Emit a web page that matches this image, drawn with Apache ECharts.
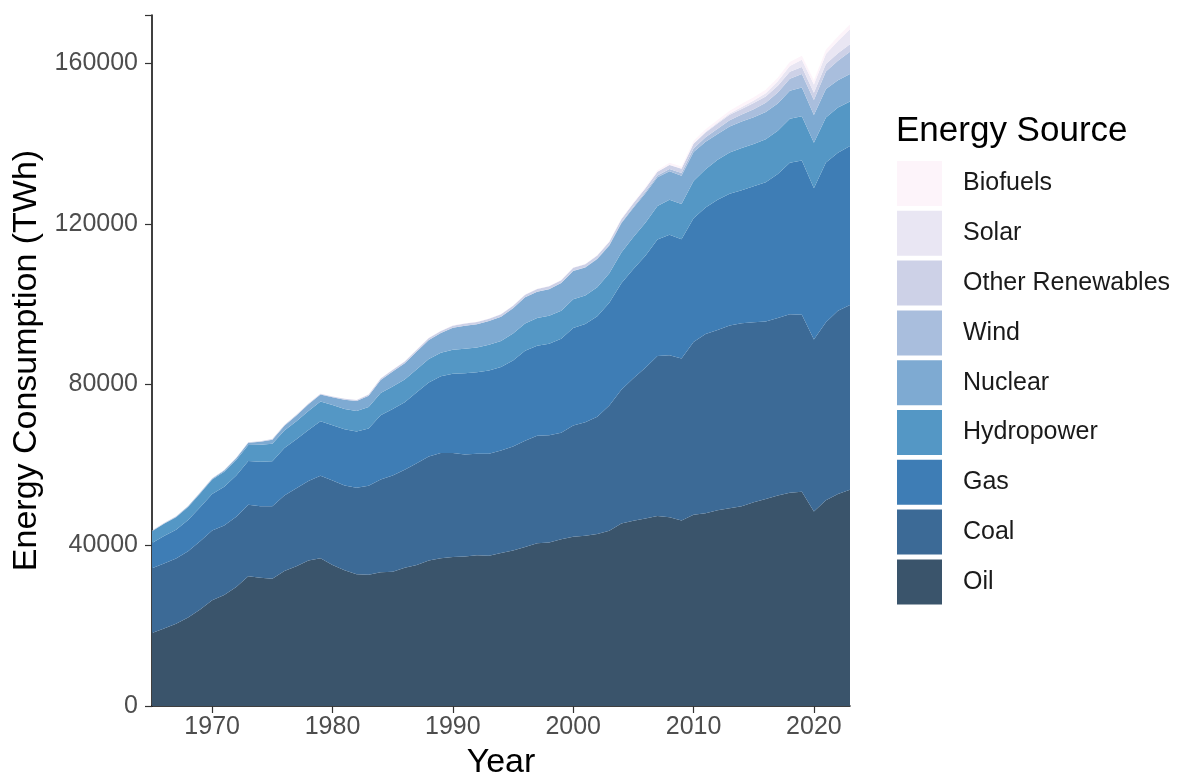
<!DOCTYPE html>
<html>
<head>
<meta charset="utf-8">
<script src="https://cdn.jsdelivr.net/npm/echarts@6/dist/echarts.min.js"></script>
<style>
html,body{margin:0;padding:0;background:#fff;overflow:hidden;}
#chart{width:1177px;height:778px;}
</style>
</head>
<body>
<div id="chart"></div>
<script>
var years = ['1965','1966','1967','1968','1969','1970','1971','1972','1973','1974',
'1975','1976','1977','1978','1979','1980','1981','1982','1983','1984',
'1985','1986','1987','1988','1989','1990','1991','1992','1993','1994',
'1995','1996','1997','1998','1999','2000','2001','2002','2003','2004',
'2005','2006','2007','2008','2009','2010','2011','2012','2013','2014',
'2015','2016','2017','2018','2019','2020','2021','2022','2023'];

var oil = [18200,19300,20500,22000,24000,26300,27600,29600,32300,31900,
31700,33600,34800,36200,36800,35100,33800,32800,32700,33300,
33400,34400,35100,36200,36800,37100,37200,37500,37400,38100,
38700,39600,40500,40700,41500,42100,42400,42800,43600,45400,
46100,46700,47300,47000,46200,47600,48000,48700,49200,49700,
50700,51500,52400,53100,53300,48400,51200,52800,53800];

var coal = [16100,16200,16200,16500,17000,17400,17300,17500,17800,17800,
18000,18800,19400,19800,20500,21000,21100,21500,22100,23100,
24000,24400,25300,25900,26200,25900,25400,25300,25400,25500,
25900,26400,26800,26700,26500,27700,28200,29200,31200,33300,
35500,37500,39800,40300,40300,43000,44600,44900,45500,45600,
44800,44200,44200,44400,44100,42800,44300,45600,46000];

var gas = [6300,6800,7200,7800,8500,9100,9700,10300,10900,11100,
11200,11800,12200,12700,13600,13800,14000,14000,14300,16000,
16500,16800,17700,18400,19100,19700,20200,20300,20700,20800,
21400,22400,22400,22800,23400,24300,24500,25000,25600,26500,
27200,27900,29000,30000,29700,30800,31500,32400,32800,33100,
33900,34700,35800,37700,38400,37700,39800,39300,39600];

var hydropower = [2900,3050,3100,3250,3400,3550,3700,3850,3950,4250,
4350,4400,4500,4750,4900,5000,5050,5150,5350,5500,
5600,5650,5700,5850,5850,6000,6150,6150,6400,6450,
6700,6800,6900,6950,7000,7150,7100,7250,7300,7700,
7950,8200,8350,8700,8750,9300,9500,10000,10300,10500,
10500,10700,10800,11000,11000,11300,11200,11300,11100];

var nuclear = [70,90,110,140,180,230,310,420,570,720,
1020,1170,1420,1660,1720,1930,2260,2440,2760,3260,
3790,4070,4440,4770,4900,5450,5700,5750,5930,6050,
6310,6540,6500,6610,6860,7030,6920,7020,6920,7250,
7270,7360,7170,7120,7020,7200,6870,6400,6460,6600,
6670,6730,6800,6950,7170,6920,7110,6770,6840];

var wind = [0,0,0,0,0,0,0,0,0,0,
0,0,0,0,0,0,0,0,1,1,
2,3,4,6,8,10,11,13,15,20,
22,30,35,45,60,85,105,140,170,220,
270,340,440,570,710,890,1090,1290,1530,1710,
2000,2320,2720,3010,3350,3720,4350,4860,5490];

var otherRenewables = [100,105,110,115,120,130,135,145,150,160,
170,180,190,205,220,240,260,290,320,360,
390,410,430,460,500,520,530,550,560,580,
600,620,640,660,680,700,710,740,770,810,
850,880,930,990,1050,1150,1200,1280,1350,1420,
1500,1560,1640,1700,1750,1800,1850,1870,1900];

var solar = [0,0,0,0,0,0,0,0,0,0,
0,0,0,0,0,0,0,0,0,0,
0,0,0,0,0,1,1,1,1,1,
1,1,2,2,3,3,4,5,6,8,
10,14,20,32,50,84,160,250,350,480,
640,840,1150,1460,1770,2090,2480,3040,3700];

var biofuels = [0,0,0,0,0,0,0,0,0,0,
5,8,12,15,20,30,40,50,60,70,
70,75,75,70,70,70,70,75,75,80,
85,90,95,95,95,100,110,130,160,180,
210,270,360,480,530,620,630,640,700,770,
790,820,870,960,1040,970,1040,1100,1210];

var yTicks = [0, 40000, 80000, 120000, 160000];
var xTickLabels = ['1970','1980','1990','2000','2010','2020'];

var seriesNames = ['Oil','Coal','Gas','Hydropower','Nuclear','Wind','Other Renewables','Solar','Biofuels'];
var seriesData = [oil, coal, gas, hydropower, nuclear, wind, otherRenewables, solar, biofuels];
var seriesColors = ['#3a546b','#3c6a96','#3e7db5','#5497c5','#7eaad2','#a9bedd','#cdd1e7','#e9e6f3','#fdf4fa'];

var FONT = 'Liberation Sans, Arial, sans-serif';

var series = seriesNames.map(function(name, i){
  return {
    name: name,
    type: 'line',
    stack: 'total',
    data: seriesData[i],
    symbol: 'none',
    showSymbol: false,
    lineStyle: {width: 0},
    itemStyle: {color: seriesColors[i]},
    areaStyle: {color: seriesColors[i], opacity: 1},
    emphasis: {disabled: true}
  };
});

var chart = echarts.init(document.getElementById('chart'), null, {renderer: 'canvas', width: 1177, height: 778});
chart.setOption({
  animation: false,
  backgroundColor: '#ffffff',
  title: {
    text: 'Energy Source',
    left: 896,
    top: 114,
    padding: 0,
    textStyle: {fontFamily: FONT, fontSize: 35, fontWeight: 'normal', color: '#000000'}
  },
  legend: {
    orient: 'vertical',
    left: 897,
    top: 161,
    padding: 0,
    itemWidth: 45,
    itemHeight: 45,
    itemGap: 4.8,
    icon: 'rect',
    data: seriesNames.slice().reverse(),
    textStyle: {fontFamily: FONT, fontSize: 25, color: '#1a1a1a', padding: [0,0,0,16]},
    selectedMode: false
  },
  grid: {left: 152, top: 15, width: 698, height: 691, containLabel: false, outerBoundsMode: 'none'},
  xAxis: {
    type: 'category',
    data: years,
    boundaryGap: false,
    name: 'Year',
    nameLocation: 'middle',
    nameGap: 40,
    nameTextStyle: {fontFamily: FONT, fontSize: 34, color: '#000000'},
    axisLine: {show: true, lineStyle: {color: '#000000', width: 1.5}},
    axisTick: {show: true, length: 7, lineStyle: {color: '#333333', width: 1.2},
      interval: function(i, v){ return xTickLabels.indexOf(String(v)) >= 0; }},
    axisLabel: {fontFamily: FONT, fontSize: 25, color: '#4d4d4d', margin: 9,
      interval: function(i, v){ return xTickLabels.indexOf(String(v)) >= 0; }},
    splitLine: {show: false}
  },
  yAxis: {
    type: 'value',
    min: 0,
    max: 172000,
    interval: 40000,
    name: 'Energy Consumption (TWh)',
    nameLocation: 'middle',
    nameGap: 105,
    nameTextStyle: {fontFamily: FONT, fontSize: 34, color: '#000000'},
    axisLine: {show: true, lineStyle: {color: '#000000', width: 1.5}},
    axisTick: {show: true, length: 7, lineStyle: {color: '#333333', width: 1.2}},
    axisLabel: {fontFamily: FONT, fontSize: 25, color: '#4d4d4d', margin: 14,
      formatter: function(v){ return yTicks.indexOf(v) >= 0 ? String(v) : ''; }},
    splitLine: {show: false}
  },
  series: series
});
</script>
</body>
</html>
